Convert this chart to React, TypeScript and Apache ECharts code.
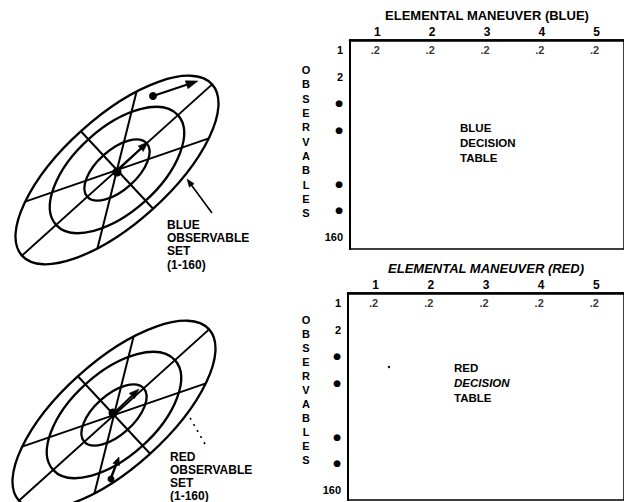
import React, { useEffect, useRef } from "react";
import * as echarts from "echarts";

// ---- data ----
const MANEUVERS = ["1", "2", "3", "4", "5"];
const BLUE_PROBS = [0.2, 0.2, 0.2, 0.2, 0.2];
const RED_PROBS = [0.2, 0.2, 0.2, 0.2, 0.2];
const ROW_LABELS = ["1", "2", "•", "•", "•", "•", "160"];
const ROW_SLOTS = [0, 1, 2, 3, 5, 6, 7];
// observable-set rings: [semi-major, semi-minor]
const RINGS = [
  [128, 53],
  [82, 42],
  [40, 20],
];
// spokes: angle (deg) relative to the major axis
const SPOKES = [0, 34, -23, 91];
const OBS_WORD = "OBSERVABLES";

const FONT = "Liberation Sans, Arial, Helvetica, sans-serif";
const INK = "#000";
const DEG = Math.PI / 180;

function fmtProb(v: number) {
  return String(v).replace(/^0/, "");
}

function diagram(cx: number, cy: number, tilt: number) {
  const [A, B] = RINGS[0];
  const children: any[] = [];
  RINGS.forEach(([a, b]) => {
    children.push({
      type: "ellipse",
      shape: { cx: 0, cy: 0, rx: a, ry: b },
      style: { fill: "none", stroke: INK, lineWidth: 2.3 },
    });
  });
  SPOKES.forEach((deg) => {
    const p = deg * DEG;
    const r = (A * B) / Math.hypot(B * Math.cos(p), A * Math.sin(p));
    const ux = Math.cos(p);
    const uy = -Math.sin(p);
    children.push({
      type: "line",
      shape: { x1: -r * ux, y1: -r * uy, x2: r * ux, y2: r * uy },
      style: { stroke: INK, lineWidth: 2 },
    });
  });
  return { type: "group", x: cx, y: cy, rotation: tilt * DEG, children };
}

function arrow(
  x1: number,
  y1: number,
  x2: number,
  y2: number,
  len = 10,
  half = 3.8,
  w = 2,
  dash?: number[]
) {
  const dx = x2 - x1;
  const dy = y2 - y1;
  const L = Math.hypot(dx, dy);
  const ux = dx / L;
  const uy = dy / L;
  const bx = x2 - ux * len;
  const by = y2 - uy * len;
  const els: any[] = [
    {
      type: "line",
      shape: { x1, y1, x2: bx, y2: by },
      style: { stroke: INK, lineWidth: w, lineDash: dash || null },
    },
  ];
  if (!dash) {
    els.push({
      type: "polygon",
      shape: {
        points: [
          [x2, y2],
          [bx - uy * half, by + ux * half],
          [bx + uy * half, by - ux * half],
        ],
      },
      style: { fill: INK, stroke: INK, lineWidth: 0.5 },
    });
  }
  return els;
}

function dot(cx: number, cy: number, r: number) {
  return { type: "circle", shape: { cx, cy, r }, style: { fill: INK } };
}

function textBlock(x: number, y: number, text: string, size: number, lh: number, extra: any = {}) {
  return {
    type: "text",
    x,
    y,
    style: {
      text,
      fontFamily: FONT,
      fontWeight: "bold",
      fontSize: size,
      lineHeight: lh,
      fill: INK,
      align: "left",
      verticalAlign: "top",
      ...extra,
    },
  };
}

function xAxisFor(gridIndex: number, name: string, italic: boolean) {
  return {
    gridIndex,
    type: "category",
    position: "top",
    data: MANEUVERS,
    axisLine: { show: true, onZero: false, lineStyle: { color: INK, width: 2.5 } },
    axisTick: { show: false },
    splitLine: { show: false },
    axisLabel: {
      margin: 2,
      color: INK,
      fontFamily: FONT,
      fontWeight: "bold",
      fontSize: 12,
    },
    name,
    nameLocation: "middle",
    nameGap: 18,
    nameTextStyle: {
      color: INK,
      fontFamily: FONT,
      fontWeight: "bold",
      fontSize: 13,
      fontStyle: italic ? "italic" : "normal",
    },
  };
}

function yAxisFor(gridIndex: number, max: number) {
  return {
    gridIndex,
    type: "value",
    inverse: true,
    min: -0.374,
    max,
    axisLine: { show: true, onZero: false, lineStyle: { color: INK, width: 2 } },
    axisTick: { show: false },
    splitLine: { show: false },
    axisLabel: {
      customValues: ROW_SLOTS,
      margin: 7,
      color: INK,
      fontFamily: FONT,
      fontWeight: "bold",
      fontSize: 11,
      formatter: (v: number) => {
        const i = ROW_SLOTS.indexOf(v);
        const s = i >= 0 ? ROW_LABELS[i] : "";
        return s === "•" ? "{d|●}" : s;
      },
      rich: {
        d: { fontSize: 9, fontFamily: "DejaVu Sans", color: INK },
      },
    },
  };
}

function probSeries(idx: number, probs: number[]) {
  return {
    type: "scatter",
    xAxisIndex: idx,
    yAxisIndex: idx,
    symbolSize: 1,
    itemStyle: { color: "transparent" },
    data: MANEUVERS.map((m, i) => [m, ROW_SLOTS[0], probs[i]]),
    label: {
      show: true,
      position: "inside",
      offset: [-2, 0],
      color: INK,
      fontFamily: FONT,
      fontWeight: "bold",
      fontSize: 11,
      formatter: (p: any) => fmtProb(p.value[2]),
    },
  };
}

export default function App() {
  const ref = useRef<HTMLDivElement>(null);

  useEffect(() => {
    if (!ref.current) return;
    const chart = echarts.init(ref.current, null, { renderer: "svg" });

    const graphic: any[] = [
      // blue observable set
      diagram(117, 170, 42),
      ...arrow(153, 96, 198, 81, 12, 4.2, 2.2),
      ...arrow(117, 171, 148, 142, 10, 3.8, 2),
      dot(117, 172, 4.5),
      dot(153, 96, 4),
      ...arrow(212, 213, 187, 179, 8, 3, 1.6),
      textBlock(167, 218, "BLUE\nOBSERVABLE\nSET\n(1-160)", 12, 13.3),
      // red observable set
      diagram(114, 415, 42),
      ...arrow(113, 414, 139, 389, 10, 3.8, 2),
      dot(113, 413, 4.5),
      ...arrow(111, 478, 119, 457, 8, 3.5, 2.4),
      dot(111, 479, 3.5),
      ...arrow(205, 444, 189, 416, 0, 0, 1.6, [2, 5]),
      textBlock(170, 451, "RED\nOBSERVABLE\nSET\n(1-160)", 12, 12.8),
      // vertical OBSERVABLES labels
      {
        type: "text",
        x: 306,
        y: 63,
        style: {
          text: OBS_WORD.split("").join("\n"),
          fontFamily: FONT,
          fontWeight: "bold",
          fontSize: 11,
          lineHeight: 14.3,
          fill: INK,
          align: "center",
          verticalAlign: "top",
        },
      },
      {
        type: "text",
        x: 306,
        y: 313,
        style: {
          text: OBS_WORD.split("").join("\n"),
          fontFamily: FONT,
          fontWeight: "bold",
          fontSize: 11,
          lineHeight: 14,
          fill: INK,
          align: "center",
          verticalAlign: "top",
        },
      },
      // table captions
      textBlock(460, 120, "BLUE\nDECISION\nTABLE", 11.5, 15),
      {
        type: "text",
        x: 454,
        y: 360,
        style: {
          text: "{n|RED}\n{i|DECISION}\n{n|TABLE}",
          fill: INK,
          align: "left",
          verticalAlign: "top",
          rich: {
            n: { fontFamily: FONT, fontWeight: "bold", fontSize: 11.5, lineHeight: 15, fill: INK },
            i: {
              fontFamily: FONT,
              fontWeight: "bold",
              fontStyle: "italic",
              fontSize: 11.5,
              lineHeight: 15,
              fill: INK,
            },
          },
        },
      },
      dot(389, 367, 1.2),
    ];

    chart.setOption({
      animation: false,
      backgroundColor: "#fff",
      grid: [
        {
          left: 350,
          top: 40,
          width: 280,
          height: 209,
          show: true,
          borderColor: INK,
          borderWidth: 1.5,
          backgroundColor: "transparent",
        },
        {
          left: 348,
          top: 293,
          width: 280,
          height: 207,
          show: true,
          borderColor: INK,
          borderWidth: 1.5,
          backgroundColor: "transparent",
        },
      ],
      xAxis: [
        xAxisFor(0, "ELEMENTAL MANEUVER (BLUE)", false),
        xAxisFor(1, "ELEMENTAL MANEUVER (RED)", true),
      ],
      yAxis: [yAxisFor(0, 7.45), yAxisFor(1, 7.375)],
      series: [probSeries(0, BLUE_PROBS), probSeries(1, RED_PROBS)],
      graphic,
    });

    return () => chart.dispose();
  }, []);

  return (
    <div
      ref={ref}
      style={{ position: "fixed", left: 0, top: 0, width: 624, height: 502 }}
    />
  );
}
